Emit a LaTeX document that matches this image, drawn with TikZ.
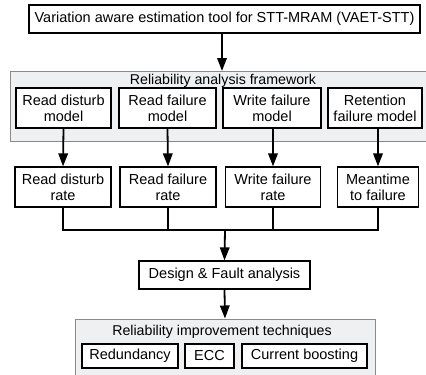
\documentclass[tikz,border=0pt]{standalone}
\usepackage{fontspec}
\setmainfont{Liberation Sans}
\usetikzlibrary{arrows.meta}
\definecolor{panel}{HTML}{EFF0F2}
\definecolor{panelline}{HTML}{8A8A8A}
\tikzset{
  box/.style={draw=black, line width=1.2pt, fill=white, align=center, inner sep=0pt, font=\fontsize{14.5}{16}\selectfont},
  panelbox/.style={draw=panelline, line width=1pt, fill=panel},
  title/.style={font=\fontsize{14.2}{16}\selectfont, inner sep=0pt, anchor=base},
  arr/.style={line width=1.8pt, -{Triangle[length=13pt, width=9.5pt]}},
  ln/.style={line width=1.8pt},
}
\begin{document}
\begin{tikzpicture}[x=1pt, y=-1pt]
\useasboundingbox (0,0) rectangle (426,375);
% top box
\node[box, minimum width=391pt, minimum height=28pt] (vaet) at (224.5,19) {Variation aware estimation tool for STT-MRAM (VAET-STT)};
% framework panel
\node[panelbox, minimum width=416pt, minimum height=70pt, inner sep=0pt] (frame) at (218,106) {};
\node[title] (ftitle) at (223,84) {Reliability analysis framework};
\node[box, minimum width=95pt, minimum height=40pt] (m1) at (63.5,108) {Read disturb\\model};
\node[box, minimum width=97pt, minimum height=40pt] (m2) at (167.5,108) {Read failure\\model};
\node[box, minimum width=98pt, minimum height=40pt] (m3) at (272,108) {Write failure\\model};
\node[box, minimum width=94pt, minimum height=40pt] (m4) at (375,108) {Retention\\failure model};
% rates
\node[box, minimum width=96pt, minimum height=40pt] (r1) at (63,187) {Read disturb\\rate};
\node[box, minimum width=96pt, minimum height=40pt] (r2) at (168,187) {Read failure\\rate};
\node[box, minimum width=95pt, minimum height=40pt] (r3) at (273,187) {Write failure\\rate};
\node[box, minimum width=81pt, minimum height=40pt] (r4) at (378,187) {Meantime\\to failure};
% design
\node[box, minimum width=171pt, minimum height=28pt] (design) at (224.5,275) {Design \& Fault analysis};
% bottom panel
\node[panelbox, minimum width=300pt, minimum height=60pt, inner sep=0pt] (imp) at (225,349) {};
\node[title] (ititle) at (222,335) {Reliability improvement techniques};
\node[box, minimum width=96pt, minimum height=24pt] (red) at (130,356) {Redundancy};
\node[box, minimum width=49pt, minimum height=24pt] (ecc) at (209.5,356) {ECC};
\node[box, minimum width=125pt, minimum height=24pt] (cb) at (304.5,356) {Current boosting};
% junction
\coordinate (j) at (225,230);
\coordinate (jl) at (63,230);
\coordinate (jr) at (378,230);
\coordinate (topin) at (222,71);
% connectors
\draw[arr] (vaet.south -| topin) -- (topin);
\draw[arr] (m1.south) -- (r1.north);
\draw[arr] (m2.south) -- (r2.north);
\draw[arr] (m3.south -| r3.north) -- (r3.north);
\draw[arr] (m4.south -| r4.north) -- (r4.north);
\draw[ln] (r1.south) -- (jl) -- (jr) -- (r4.south);
\draw[ln] (r2.south) -- (r2.south |- j);
\draw[ln] (r3.south) -- (r3.south |- j);
\draw[arr] (j) -- (design.north);
\draw[arr] (design.south) -- (imp.north);
\end{tikzpicture}
\end{document}
